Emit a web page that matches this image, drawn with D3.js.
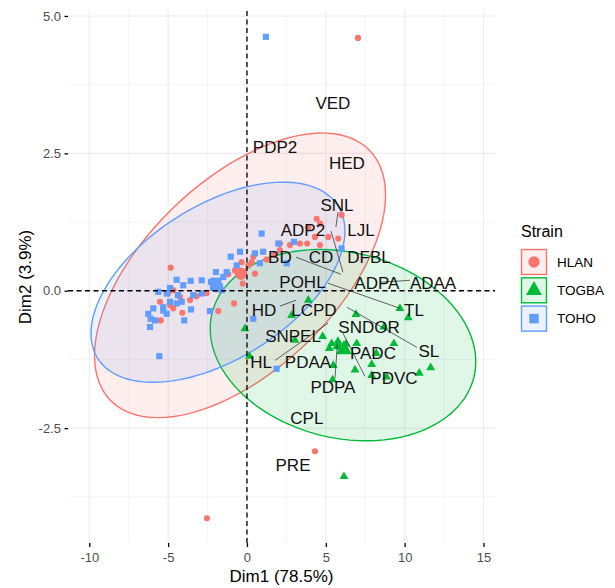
<!DOCTYPE html>
<html>
<head>
<meta charset="utf-8">
<script src="https://cdn.jsdelivr.net/npm/d3@7"></script>
<style>
  body { margin: 0; background: #fff; }
  svg { display: block; }
  text { font-family: "Liberation Sans", Arial, Helvetica, sans-serif; }
</style>
</head>
<body>
<svg id="chart" width="615" height="588"></svg>
<script>
// ---- groups ----
const strains = ["HLAN", "TOGBA", "TOHO"];
const strainColors = ["#F8766D", "#00BA38", "#619CFF"];

// ---- individuals (Dim1, Dim2) ----
const hlanX = [7.04, -2.54, 4.31, -4.84, -1.19, -0.27, -0.82, -1.82, -4.67, -5.52, -4.88, -4.67, -3.61, -5.47, -2.56,
  4.42, 4.63, 3.89, 5.16, 5.79, 4.31, 4.63, 3.82, 3.36, 2.73, 2.09, 2.09, 1.73, 1.25, 0.40, 0.30, 0.08, -0.34, -0.76,
  0.51, 6.00, -4.25, -5.00, -4.10, -3.20];
const hlanY = [4.60, -4.14, -2.92, 0.42, 0.30, 0.13, -0.23, -0.37, 0.01, -0.20, -0.26, -0.32, -0.17, -0.54, -0.04,
  1.31, 1.22, 1.15, 0.98, 0.95, 0.98, 0.83, 0.86, 0.86, 0.83, 0.86, 0.74, 0.65, 0.57, 0.62, 0.52, 0.46, 0.52, 0.37,
  0.31, 1.38, -0.11, -0.05, -0.40, -0.10];

const togbaX = [6.15, -0.13, 0.15, 2.83, 3.04, 3.89, 9.70, 10.23, 6.91, 8.69, 4.80, 5.37, 5.22, 5.90, 6.11, 8.20,
  9.32, 7.91, 6.85, 5.47, 8.86, 7.91, 10.93, 11.65, 5.43, 6.96, 5.69, 5.77, 6.28];
const togbaY = [-3.38, -0.69, -1.19, -0.45, -0.90, -0.17, -0.32, -0.49, -0.43, -0.66, -0.83, -0.96, -1.05, -1.02, -1.08, -1.14,
  -0.96, -1.34, -1.44, -1.36, -1.57, -1.54, -1.50, -1.40, -1.62, -0.96, -1.02, -0.92, -0.97];

const tohoX = [1.20, -1.03, -0.65, -1.97, -4.46, -4.04, -3.57, -2.28, -2.09, -1.84, -2.16, -1.90, -1.71, -1.60, -2.87,
  -3.41, -5.62, -5.09, -4.38, -4.88, -5.31, -4.46, -4.14, -5.94, -5.31, -5.09, -6.26, -6.11, -6.15, -3.98, -3.55, -2.35,
  -5.56, -5.83, 0.93, 1.99, 2.98, 1.03, 0.51, 0.82, 2.52, 6.00, -0.44, -1.29, -1.50, 0.40, 1.88, -2.87, -4.88];
const tohoY = [4.62, 0.62, 0.46, 0.34, 0.20, 0.10, 0.18, 0.16, 0.10, 0.14, 0.05, 0.03, 0.08, 0.01, -0.05,
  -0.08, -0.02, -0.05, -0.08, -0.20, -0.30, -0.23, -0.20, -0.32, -0.36, -0.42, -0.42, -0.51, -0.66, -0.54, -0.34, -0.37,
  -1.19, -0.54, 1.04, 0.86, 0.89, 0.71, 0.68, 0.50, 0.50, 0.77, 0.71, 0.34, 0.25, -0.51, -1.42, 0.19, 0.05];

// group means (HLAN, TOGBA, TOHO)
const meanX = [-0.38, 6.15, -1.97];
const meanY = [0.31, -1.07, 0.14];

// 95% normal ellipses: centre, sd on each axis, correlation
const ellipseLevel = 0.95;
const ellCx = [-0.44, 6.09, -1.84];
const ellCy = [0.28, -0.99, 0.155];
const ellSdX = [3.77, 3.44, 3.29];
const ellSdY = [1.058, 0.711, 0.744];
const ellCor = [0.564, -0.173, 0.512];

// ---- variable labels ----
const varNames = ["VED", "PDP2", "HED", "SNL", "ADP2", "LJL", "BD", "CD", "DFBL", "POHL", "ADPA", "ADAA",
  "HD", "LCPD", "TL", "SNDOR", "SNPEL", "SL", "PADC", "HL", "PDAA", "PDVC", "PDPA", "CPL", "PRE"];
const varLabelX = [5.45, 1.78, 6.34, 5.71, 3.55, 7.23, 2.09, 4.69, 7.74, 3.52, 8.24, 11.80,
  1.08, 4.25, 10.59, 7.74, 2.92, 11.54, 7.99, 0.89, 3.87, 9.32, 5.45, 3.80, 2.92];
const varLabelY = [3.40, 2.61, 2.32, 1.56, 1.10, 1.10, 0.60, 0.61, 0.61, 0.155, 0.14, 0.14,
  -0.355, -0.355, -0.355, -0.66, -0.83, -1.10, -1.14, -1.30, -1.30, -1.59, -1.76, -2.32, -3.18];

// leader segments: variable position -> label side
const segNames = ["SNL", "ADP2", "BD", "TL", "SL", "HD", "HL", "PDPA", "PDVC", "ADAA"];
const segX0 = [5.64, 6.09, 5.96, 5.14, 6.34, 3.11, 5.14, 5.74, 6.09, 8.43];
const segY0 = [1.157, 0.337, 0.30, 0.137, -0.30, -0.173, -0.59, -0.956, -0.774, 0.155];
const segX1 = [5.77, 5.33, 3.11, 9.70, 10.78, 2.09, 1.78, 5.58, 7.48, 10.34];
const segY1 = [1.43, 1.084, 0.61, -0.319, -1.03, -0.28, -1.266, -1.594, -1.557, 0.19];

// ---- axes ----
const xTicks = [-10, -5, 0, 5, 10, 15];
const xMinor = [-7.5, -2.5, 2.5, 7.5, 12.5];
const yTicks = [-2.5, 0, 2.5, 5];
const yMinor = [-3.75, -1.25, 1.25, 3.75];
const xTitle = "Dim1 (78.5%)";
const yTitle = "Dim2 (3.9%)";
const legendTitle = "Strain";

const panel = { left: 68, right: 495, top: 11, bottom: 543 };
const x = d3.scaleLinear().domain([-11.35, 15.73]).range([panel.left, panel.right]);
const y = d3.scaleLinear().domain([-4.59, 5.09]).range([panel.bottom, panel.top]);

const svg = d3.select("#chart");

// grid
const grid = svg.append("g");
grid.selectAll(".gxm").data(xMinor).join("line")
  .attr("x1", d => x(d)).attr("x2", d => x(d)).attr("y1", panel.top).attr("y2", panel.bottom)
  .attr("stroke", "#F2F2F2").attr("stroke-width", 0.8);
grid.selectAll(".gym").data(yMinor).join("line")
  .attr("y1", d => y(d)).attr("y2", d => y(d)).attr("x1", panel.left).attr("x2", panel.right)
  .attr("stroke", "#F2F2F2").attr("stroke-width", 0.8);
grid.selectAll(".gx").data(xTicks).join("line")
  .attr("x1", d => x(d)).attr("x2", d => x(d)).attr("y1", panel.top).attr("y2", panel.bottom)
  .attr("stroke", "#EBEBEB").attr("stroke-width", 1.1);
grid.selectAll(".gy").data(yTicks).join("line")
  .attr("y1", d => y(d)).attr("y2", d => y(d)).attr("x1", panel.left).attr("x2", panel.right)
  .attr("stroke", "#EBEBEB").attr("stroke-width", 1.1);

// axes
const xAxis = svg.append("g").attr("transform", `translate(0,${panel.bottom})`)
  .call(d3.axisBottom(x).tickValues(xTicks).tickSize(4).tickPadding(6).tickFormat(d => String(d)));
const yAxis = svg.append("g").attr("transform", `translate(${panel.left},0)`)
  .call(d3.axisLeft(y).tickValues(yTicks).tickSize(3.5).tickPadding(3.5).tickFormat(d => d.toFixed(1)));
[xAxis, yAxis].forEach(a => {
  a.select(".domain").remove();
  a.selectAll(".tick line").attr("stroke", "#000").attr("stroke-width", 1.3);
  a.selectAll(".tick text").attr("fill", "#4D4D4D").attr("font-size", 13)
    .attr("font-family", "'Liberation Sans', Arial, sans-serif");
});

svg.append("text").attr("x", (panel.left + panel.right) / 2).attr("y", 582)
  .attr("text-anchor", "middle").attr("font-size", 17).attr("fill", "#000").text(xTitle);
svg.append("text").attr("transform", `translate(31,${(panel.top + panel.bottom) / 2}) rotate(-90)`)
  .attr("text-anchor", "middle").attr("font-size", 17).attr("fill", "#000").text(yTitle);

// ellipses
const kScale = Math.sqrt(-2 * Math.log(1 - ellipseLevel));
const ellLine = d3.line().x(p => x(p[0])).y(p => y(p[1])).curve(d3.curveLinearClosed);
function ellipsePoints(i) {
  const r = ellCor[i], q = Math.sqrt(1 - r * r);
  return d3.range(0, 120).map(j => {
    const t = j / 120 * 2 * Math.PI, c = Math.cos(t), s = Math.sin(t);
    return [ellCx[i] + kScale * ellSdX[i] * c, ellCy[i] + kScale * ellSdY[i] * (r * c + q * s)];
  });
}
const ellG = svg.append("g");
strains.forEach((s, i) => {
  ellG.append("path").attr("d", ellLine(ellipsePoints(i)))
    .attr("fill", strainColors[i]).attr("fill-opacity", 0.12)
    .attr("stroke", strainColors[i]).attr("stroke-width", 1.4);
});

// points
const groupX = [hlanX, togbaX, tohoX];
const groupY = [hlanY, togbaY, tohoY];
const shapes = [d3.symbolCircle, d3.symbolTriangle, d3.symbolSquare];
const sizes = [30, 34, 38];
const meanSizes = [120, 110, 120];
const ptG = svg.append("g");
strains.forEach((s, i) => {
  const sym = d3.symbol().type(shapes[i]).size(sizes[i]);
  ptG.selectAll(null).data(d3.range(groupX[i].length)).join("path")
    .attr("d", sym)
    .attr("transform", j => `translate(${x(groupX[i][j])},${y(groupY[i][j])})`)
    .attr("fill", strainColors[i]);
});
strains.forEach((s, i) => {
  ptG.append("path").attr("d", d3.symbol().type(shapes[i]).size(meanSizes[i])())
    .attr("transform", `translate(${x(meanX[i])},${y(meanY[i])})`)
    .attr("fill", strainColors[i]);
});

// reference lines
svg.append("line").attr("x1", x(0)).attr("x2", x(0)).attr("y1", panel.top).attr("y2", panel.bottom)
  .attr("stroke", "#000").attr("stroke-width", 1.3).attr("stroke-dasharray", "5,3.5");
svg.append("line").attr("y1", y(0)).attr("y2", y(0)).attr("x1", panel.left).attr("x2", panel.right)
  .attr("stroke", "#000").attr("stroke-width", 1.3).attr("stroke-dasharray", "5,3.5");

// leader segments and labels
svg.append("g").selectAll("line").data(d3.range(segNames.length)).join("line")
  .attr("x1", i => x(segX0[i])).attr("y1", i => y(segY0[i]))
  .attr("x2", i => x(segX1[i])).attr("y2", i => y(segY1[i]))
  .attr("stroke", "#222").attr("stroke-width", 0.7);

svg.append("g").selectAll("text").data(d3.range(varNames.length)).join("text")
  .attr("x", i => x(varLabelX[i])).attr("y", i => y(varLabelY[i]))
  .attr("text-anchor", "middle").attr("dominant-baseline", "central")
  .attr("font-size", 17).attr("fill", "#111")
  .text(i => varNames[i]);

// legend
const lg = svg.append("g");
lg.append("text").attr("x", 521).attr("y", 237).attr("font-size", 16).attr("fill", "#000").text(legendTitle);
strains.forEach((s, i) => {
  const ky = 249.5 + i * 28.3;
  lg.append("rect").attr("x", 521.5).attr("y", ky).attr("width", 25).attr("height", 25)
    .attr("fill", strainColors[i]).attr("fill-opacity", 0.12)
    .attr("stroke", strainColors[i]).attr("stroke-width", 1.4);
  lg.append("path").attr("d", d3.symbol().type(shapes[i]).size(i === 1 ? 110 : (i === 0 ? 100 : 90))())
    .attr("transform", `translate(534,${ky + 12.5})`).attr("fill", strainColors[i]);
  lg.append("text").attr("x", 557).attr("y", ky + 12.5).attr("dominant-baseline", "central")
    .attr("font-size", 13.5).attr("fill", "#000").text(s);
});
</script>
</body>
</html>
